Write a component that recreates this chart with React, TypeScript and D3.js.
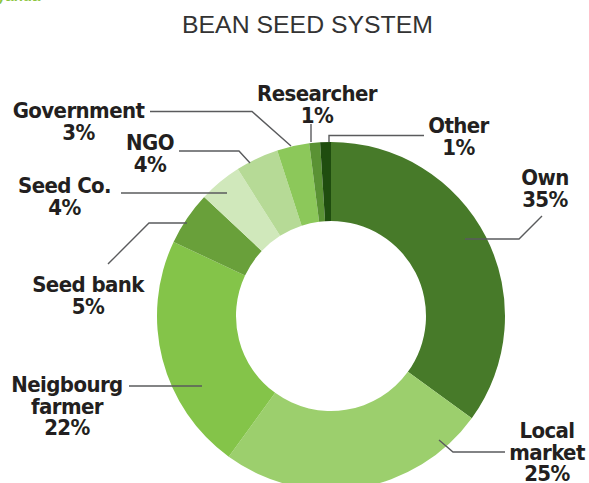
import React from "react";
import * as d3 from "d3";

const categories = ["Own", "Local market", "Neigbourg farmer", "Seed bank", "Seed Co.", "NGO", "Government", "Researcher", "Other"];
const values = [35, 25, 22, 5, 4, 4, 3, 1, 1];
const colors = ["#477a29", "#9ccf6d", "#84c449", "#69a03a", "#d0e8bb", "#b6da96", "#8cc85a", "#5a9234", "#1f4d0f"];
const labelLines = [
  ["Own", "35%"],
  ["Local", "market", "25%"],
  ["Neigbourg", "farmer", "22%"],
  ["Seed bank", "5%"],
  ["Seed Co.", "4%"],
  ["NGO", "4%"],
  ["Government", "3%"],
  ["Researcher", "1%"],
  ["Other", "1%"],
];

const W = 589;
const H = 483;
const cx = 331;
const cy = 316;
const R = 174;
const r = 95;

// label anchor (center x, first baseline y) and leader polylines
const labelPos: [number, number][] = [
  [545, 185],
  [547, 438],
  [67, 392],
  [88, 292],
  [64.5, 193],
  [150, 150],
  [78.5, 118],
  [317, 101],
  [458.5, 133],
];
const leaders: [number, number][][] = [
  [[465, 239], [519, 239], [542, 216]],
  [[439, 440], [453, 452], [505, 452]],
  [[129, 386], [202, 386]],
  [[108, 264], [149, 223], [187, 223]],
  [[121, 193], [227, 193]],
  [[179, 151], [239, 151], [250, 163]],
  [[150, 111.5], [252, 111.5], [291, 146]],
  [[311, 124], [311, 142]],
  [[424, 135.5], [329, 135.5], [329, 142]],
];

export default function App() {
  const pie = d3.pie<number>().sort(null).value((d) => d)(values);
  const arc = d3.arc<d3.PieArcDatum<number>>().innerRadius(r).outerRadius(R);
  const line = d3.line();
  return (
    <svg width={W} height={H} style={{ position: "absolute", left: 0, top: 0, background: "#fff" }}>
      <text x={-3} y={1} fill="#8dc63f" fontFamily="Liberation Sans" fontSize={15} fontWeight="bold">
        yanda
      </text>
      <text x={307.5} y={33} textAnchor="middle" fill="#333" fontFamily="Liberation Sans" fontSize={24.5} textLength={251} lengthAdjust="spacingAndGlyphs">
        BEAN SEED SYSTEM
      </text>
      <g transform={`translate(${cx},${cy})`}>
        {pie.map((p, i) => (
          <path key={i} d={arc(p) || ""} fill={colors[i]} />
        ))}
      </g>
      {leaders.map((pts, i) => (
        <path key={i} d={line(pts) || ""} fill="none" stroke="#5a5b5d" strokeWidth={1.4} />
      ))}
      {labelLines.map((lines, i) => (
        <text
          key={i}
          textAnchor="middle"
          fill="#231f20"
          fontFamily="'DejaVu Sans Condensed', 'Liberation Sans', sans-serif"
          fontWeight="bold"
          fontSize={22}
          letterSpacing={-0.6}
        >
          {lines.map((t, j) => (
            <tspan key={j} x={labelPos[i][0]} y={labelPos[i][1] + j * 21.5}>
              {t}
            </tspan>
          ))}
        </text>
      ))}
    </svg>
  );
}
